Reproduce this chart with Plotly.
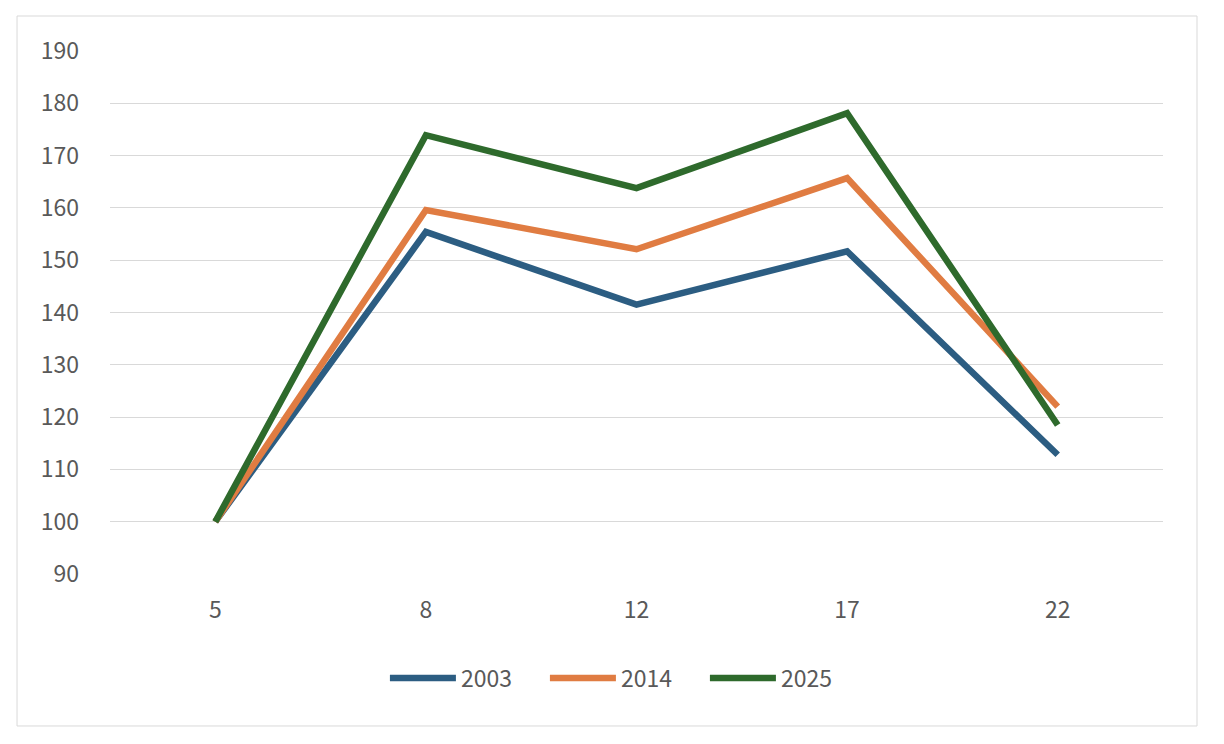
import plotly.graph_objects as go

categories = ["5", "8", "12", "17", "22"]
series_names = ["2003", "2014", "2025"]
values_2003 = [100, 155.4, 141.5, 151.7, 112.8]
values_2014 = [100, 159.6, 152.1, 165.7, 122.0]
values_2025 = [100, 173.9, 163.8, 178.1, 118.5]
colors = ["#2C5D82", "#E07C42", "#2E6A2C"]
y_ticks = [90, 100, 110, 120, 130, 140, 150, 160, 170, 180, 190]

font_family = "Noto Sans CJK JP, Noto Sans, sans-serif"
text_color = "#595959"

fig = go.Figure()
for name, vals, col in zip(series_names, [values_2003, values_2014, values_2025], colors):
    fig.add_trace(go.Scatter(
        x=categories, y=vals, name=name, mode="lines",
        line=dict(color=col, width=6.5),
    ))

# page body has an 8px margin, so shift the layout up/left by 8px
fig.update_layout(
    width=1224, height=744,
    margin=dict(l=102, r=69, t=43, b=178),
    paper_bgcolor="white", plot_bgcolor="white",
    font=dict(family=font_family, size=23, color=text_color),
    showlegend=True,
    legend=dict(orientation="h", x=0.489, xanchor="center", y=-0.199, yanchor="middle",
                font=dict(size=23, color=text_color), itemwidth=66, tracegroupgap=0,
                entrywidth=79, entrywidthmode="pixels"),
    shapes=[dict(type="rect", xref="paper", yref="paper",
                 x0=-0.0883, x1=1.0323, y0=-0.2906, y1=1.0669,
                 line=dict(color="#D9D9D9", width=1), fillcolor="rgba(0,0,0,0)", layer="below")],
)
fig.update_xaxes(type="category", range=[-0.5, 4.5], showgrid=False, zeroline=False,
                 showline=False, ticks="", ticklabelstandoff=20,
                 tickfont=dict(size=23, color=text_color))
fig.update_yaxes(range=[90, 190], tickvals=y_ticks, showgrid=True, gridcolor="#D9D9D9",
                 gridwidth=1, zeroline=False, showline=False, ticks="",
                 ticklabelstandoff=30, tickfont=dict(size=23, color=text_color))

fig.write_html("out.html")
